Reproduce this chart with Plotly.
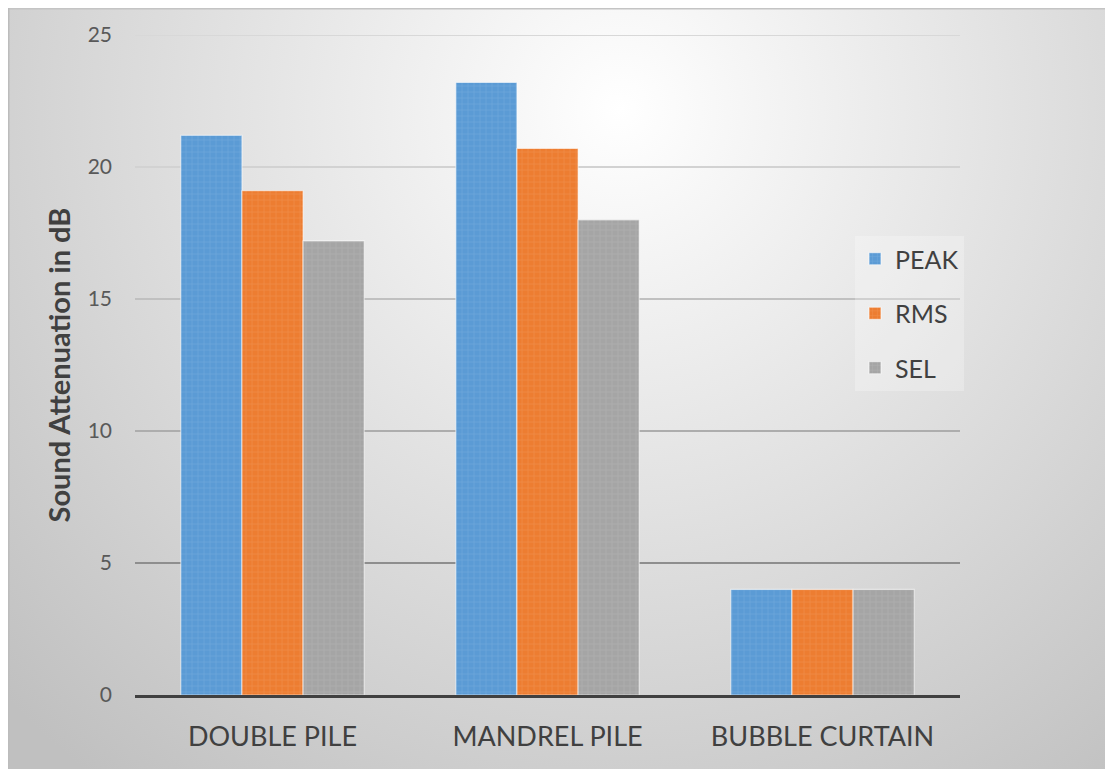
import base64
import plotly.graph_objects as go

categories = ["DOUBLE PILE", "MANDREL PILE", "BUBBLE CURTAIN"]
peak = [21.2, 23.2, 4.0]
rms = [19.1, 20.7, 4.0]
sel = [17.2, 18.0, 4.0]
series_names = ["PEAK", "RMS", "SEL"]
series_colors = ["#5B9BD5", "#ED7D31", "#A5A5A5"]
y_ticks = [0, 5, 10, 15, 20, 25]
grid_colors = {5: "#8e8e8e", 10: "#adadad", 15: "#c0c0c0", 20: "#d2d2d2", 25: "#d8d8d8"}

W, H = 1113, 769
OFF = 8  # page body margin
ML, MR, MT, MB = 135 - OFF, 153 + OFF, 35 - OFF, 74 + OFF
PW, PH = W - ML - MR, H - MT - MB

svg = f'''<svg xmlns="http://www.w3.org/2000/svg" width="{W}" height="{H}" viewBox="0 0 {W} {H}">
<defs><radialGradient id="g" gradientUnits="userSpaceOnUse" cx="{620-OFF}" cy="{110-OFF}" r="850">
<stop offset="0" stop-color="#ffffff"/><stop offset="1" stop-color="#c0c0c0"/></radialGradient></defs>
<rect x="0" y="0" width="{W}" height="{H}" fill="url(#g)"/>
<line x1="0" y1="0.75" x2="{W}" y2="0.75" stroke="#c4c4c4" stroke-width="1.5"/>
<line x1="0.75" y1="0" x2="0.75" y2="{H}" stroke="#bcbcbc" stroke-width="1.5"/>
</svg>'''
src = "data:image/svg+xml;base64," + base64.b64encode(svg.encode()).decode()

fig = go.Figure()
for name, vals, col in zip(series_names, [peak, rms, sel], series_colors):
    fig.add_trace(go.Bar(
        x=categories, y=vals, name=name, legendgroup=name,
        marker=dict(color=col,
                    line=dict(color="rgba(255,255,255,0.55)", width=1.2),
                    pattern=dict(shape="+", fgcolor="rgba(255,255,255,0.25)",
                                 size=6, solidity=0.2, fillmode="overlay")),
    ))

shapes = []
for t in y_ticks[1:]:
    shapes.append(dict(type="line", xref="paper", x0=0, x1=1, yref="y", y0=t, y1=t,
                       line=dict(color=grid_colors[t], width=2), layer="below"))

fig.update_layout(
    width=W, height=H,
    margin=dict(l=ML, r=MR, t=MT, b=MB, pad=0),
    paper_bgcolor="white", plot_bgcolor="rgba(0,0,0,0)",
    barmode="group", bargap=0.333, bargroupgap=0,
    font=dict(family="Lato, 'Open Sans', sans-serif", color="#404040"),
    images=[dict(source=src, xref="paper", yref="paper",
                 x=-ML / PW, y=1 + MT / PH, sizex=W / PW, sizey=H / PH,
                 xanchor="left", yanchor="top", sizing="stretch", layer="below")],
    shapes=shapes,
    legend=dict(x=(855 - 135) / PW, y=(695 - 236) / PH, xanchor="left", yanchor="top",
                bgcolor="rgba(255,255,255,0.25)", font=dict(size=25, color="#404040"),
                traceorder="grouped", tracegroupgap=19, itemwidth=30,
                borderwidth=0),
    xaxis=dict(showline=True, linecolor="#404040", linewidth=3, showgrid=False,
               ticks="", tickfont=dict(size=27, color="#404040"),
               ticklabelstandoff=16, fixedrange=True),
    yaxis=dict(range=[0, 25], tickvals=y_ticks, showgrid=False, zeroline=False,
               showline=False, ticks="", tickfont=dict(size=21, color="#595959"),
               ticklabelstandoff=22,
               title=dict(text="<b>Sound Attenuation in dB</b>", standoff=8,
                          font=dict(size=29, color="#404040"))),
)

fig.write_html("out.html")
